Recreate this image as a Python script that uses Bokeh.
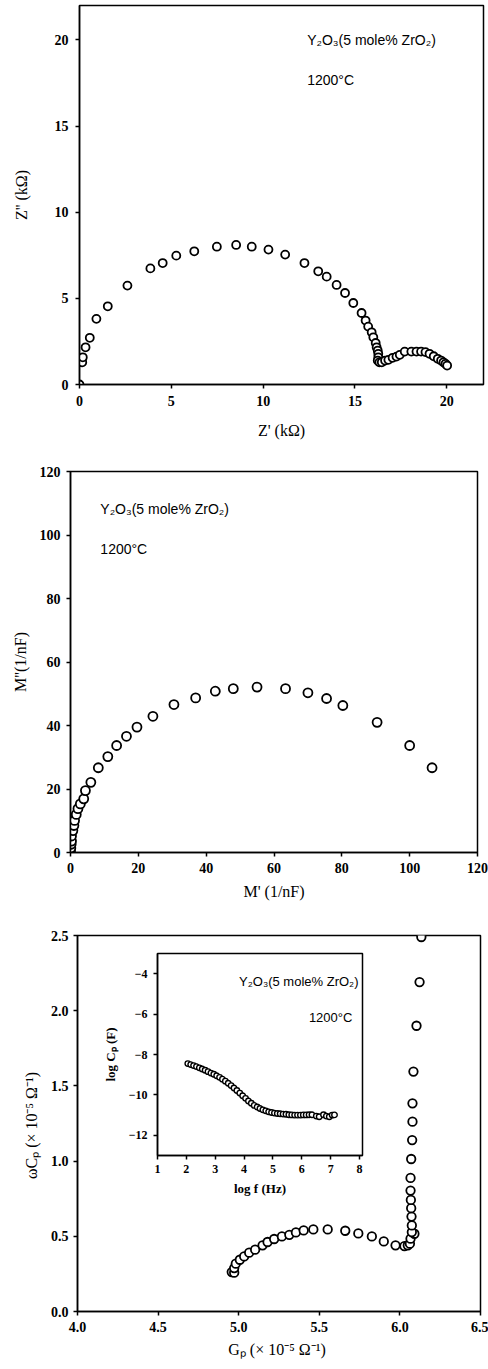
from bokeh.plotting import figure
from bokeh.models import Label, FixedTicker, NumeralTickFormatter, Range1d
from bokeh.embed import file_html
from bokeh.resources import INLINE

# ---------------- data ----------------
# Panel 1: impedance plane
z_re = [0.0, 0.15, 0.18, 0.33, 0.56, 0.92, 1.54, 2.61, 3.86, 4.53, 5.27, 6.25, 7.48,
        8.53, 9.38, 10.29, 11.2, 12.25, 13.0, 13.46, 14.0, 14.46, 14.91, 15.36, 15.58,
        15.72, 15.91, 16.0, 16.13, 16.18, 16.24, 16.27, 16.27, 16.24, 16.33, 16.46,
        16.64, 16.82, 17.05, 17.26, 17.44, 17.71, 18.07, 18.35, 18.6, 18.84, 19.06,
        19.29, 19.51, 19.69, 19.82, 19.93, 20.02]
z_im = [0.0, 1.29, 1.58, 2.16, 2.71, 3.81, 4.54, 5.74, 6.74, 7.05, 7.48, 7.73, 8.0,
        8.1, 8.0, 7.83, 7.54, 7.05, 6.57, 6.26, 5.78, 5.31, 4.73, 4.15, 3.71,
        3.36, 3.03, 2.74, 2.41, 2.16, 1.97, 1.78, 1.58, 1.39, 1.29, 1.29,
        1.39, 1.43, 1.55, 1.62, 1.72, 1.91, 1.91, 1.91, 1.91, 1.88, 1.78,
        1.64, 1.49, 1.39, 1.29, 1.2, 1.1]

# Panel 2: modulus plane
m_re = [0.0, 0.1, 0.2, 0.3, 0.3, 0.7, 1.0, 1.2, 1.7, 2.2, 2.9, 3.9, 4.4, 6.0, 8.2,
        11.0, 13.6, 16.5, 19.6, 24.3, 30.5, 36.9, 42.7, 48.0, 55.0, 63.4, 70.0,
        75.5, 80.3, 90.4, 100.0, 106.6]
m_im = [0.5, 1.4, 2.6, 3.6, 5.2, 6.9, 8.5, 10.1, 12.0, 13.8, 15.3, 16.9, 19.5, 22.1,
        26.7, 30.2, 33.7, 36.6, 39.5, 42.9, 46.6, 48.7, 50.8, 51.6, 52.1, 51.6, 50.3,
        48.5, 46.3, 41.0, 33.7, 26.7]

# Panel 3: admittance plane
g_p = [4.957, 4.972, 4.972, 4.982, 5.007, 5.034, 5.065, 5.102, 5.148, 5.179, 5.220,
       5.268, 5.314, 5.355, 5.403, 5.463, 5.552, 5.661, 5.742, 5.826, 5.900, 5.973,
       6.028, 6.049, 6.062, 6.066, 6.090, 6.074, 6.074, 6.072, 6.070, 6.068, 6.066,
       6.066, 6.070, 6.076, 6.078, 6.078, 6.084, 6.103, 6.122, 6.133]
wc_p = [0.262, 0.258, 0.289, 0.318, 0.344, 0.366, 0.391, 0.411, 0.440, 0.462, 0.482,
        0.499, 0.510, 0.526, 0.539, 0.546, 0.546, 0.537, 0.519, 0.499, 0.466, 0.440,
        0.435, 0.440, 0.451, 0.484, 0.517, 0.528, 0.572, 0.631, 0.687, 0.742, 0.804,
        0.888, 1.014, 1.140, 1.262, 1.384, 1.595, 1.90, 2.19, 2.49]

# Inset: capacitance vs frequency
log_f = [2.05, 2.15, 2.25, 2.35, 2.45, 2.55, 2.65, 2.75, 2.85, 2.95, 3.05, 3.15, 3.25,
         3.35, 3.45, 3.55, 3.65, 3.75, 3.85, 3.95, 4.05, 4.15, 4.25, 4.35, 4.45, 4.55,
         4.65, 4.75, 4.85, 4.95, 5.05, 5.15, 5.25, 5.35, 5.45, 5.55, 5.65, 5.75, 5.85,
         5.95, 6.05, 6.15, 6.25, 6.35, 6.5, 6.6, 6.75, 6.85, 6.95, 7.05, 7.13]
log_cp = [-8.45, -8.5, -8.55, -8.6, -8.66, -8.72, -8.78, -8.85, -8.92, -8.98, -9.05,
          -9.13, -9.22, -9.32, -9.42, -9.54, -9.66, -9.78, -9.91, -10.04, -10.17, -10.3,
          -10.41, -10.52, -10.6, -10.67, -10.74, -10.79, -10.84, -10.87, -10.9, -10.92,
          -10.93, -10.95, -10.96, -10.98, -10.99, -11.0, -11.0, -11.0, -10.99, -10.99,
          -10.98, -10.98, -11.05, -11.08, -10.98, -11.05, -11.08, -11.0, -10.99]

ticks_z = [0, 5, 10, 15, 20]
ticks_m = [0, 20, 40, 60, 80, 100, 120]
ticks_g = [4.0, 4.5, 5.0, 5.5, 6.0, 6.5]
ticks_wc = [0.0, 0.5, 1.0, 1.5, 2.0, 2.5]
ticks_f = [1, 2, 3, 4, 5, 6, 7, 8]
ticks_cp = [-4, -6, -8, -10, -12]

sample = "Y\u2082O\u2083(5 mole% ZrO\u2082)"
temp = "1200\u00b0C"

SERIF = "Liberation Serif"
SANS = "Liberation Sans"


def make_fig(w, h, top, xr, yr, mbl, mbr, mbt, mbb, transparent=False):
    p = figure(width=w, height=h, x_range=Range1d(*xr), y_range=Range1d(*yr),
               output_backend="svg", toolbar_location=None,
               min_border_left=mbl, min_border_right=mbr,
               min_border_top=mbt, min_border_bottom=mbb,
               styles={"position": "absolute", "left": "8px", "top": f"{top}px"})
    p.xgrid.grid_line_color = None
    p.ygrid.grid_line_color = None
    p.outline_line_color = "black"
    p.outline_line_width = 1.5
    p.outline_line_alpha = 1.0
    p.background_fill_color = "white"
    if transparent:
        p.border_fill_alpha = 0.0
    return p


def style_axis(ax, ticks, tick_size, label, label_size, label_bold, standoff, label_standoff, fmt=None):
    ax.ticker = FixedTicker(ticks=ticks)
    if fmt:
        ax.formatter = NumeralTickFormatter(format=fmt)
    ax.axis_line_color = "black"
    ax.axis_line_width = 1.5
    ax.major_tick_line_color = "black"
    ax.major_tick_line_width = 1.5
    ax.major_tick_in = 0
    ax.major_tick_out = 4
    ax.minor_tick_in = 0
    ax.minor_tick_out = 0
    ax.minor_tick_line_color = None
    ax.major_label_text_font = SERIF
    ax.major_label_text_font_style = "bold"
    ax.major_label_text_font_size = tick_size
    ax.major_label_text_color = "black"
    ax.major_label_standoff = standoff
    ax.axis_label = label
    ax.axis_label_text_font = SERIF
    ax.axis_label_text_font_style = "bold" if label_bold else "normal"
    ax.axis_label_text_font_size = label_size
    ax.axis_label_text_color = "black"
    ax.axis_label_standoff = label_standoff


def add_label(p, x, y, text, align="left", size="14px"):
    p.add_layout(Label(x=x, y=y, text=text, text_font=SANS, text_font_size=size,
                       text_align=align, text_baseline="middle", text_color="black"))


# ---------------- panel 1 ----------------
p1 = make_fig(480, 444, 4, (0, 22), (0, 22), 71, 5, 1, 64)
style_axis(p1.xaxis[0], ticks_z, "14px", "Z' (k\u03a9)", "16px", False, 7, 13)
style_axis(p1.yaxis[0], ticks_z, "14px", "Z'' (k\u03a9)", "16px", False, 7, 22)
p1.scatter(z_re, z_im, size=8, marker="circle", fill_color="white",
           line_color="black", line_width=1.8)
add_label(p1, 12.4, 20.0, sample)
add_label(p1, 12.4, 17.7, temp)

# ---------------- panel 2 ----------------
p2 = make_fig(480, 457, 448, (0, 120), (0, 120), 62, 11, 23, 53)
style_axis(p2.xaxis[0], ticks_m, "14px", "M' (1/nF)", "16px", False, 6, 7)
style_axis(p2.yaxis[0], ticks_m, "14px", "M''(1/nF)", "16px", False, 6, 8)
p2.scatter(m_re, m_im, size=9, marker="circle", fill_color="white",
           line_color="black", line_width=1.8)
add_label(p2, 8.8, 108.3, sample)
add_label(p2, 8.8, 95.7, temp)

# ---------------- panel 3 ----------------
p3 = make_fig(480, 456, 905, (4.0, 6.5), (0.0, 2.5), 69, 8, 30, 50)
style_axis(p3.xaxis[0], ticks_g, "14px", "G\u209a (\u00d7 10\u207b\u2075  \u03a9\u207b\u00b9)", "16px", False, 6, 6, "0.0")
style_axis(p3.yaxis[0], ticks_wc, "14px", "\u03c9C\u209a (\u00d7 10\u207b\u2075  \u03a9\u207b\u00b9)", "16px", False, 5, 8, "0.0")
p3.scatter(g_p, wc_p, size=8.5, marker="circle", fill_color="white",
           line_color="black", line_width=1.8)

# ---------------- inset (overlaid on panel 3) ----------------
pin = make_fig(480, 456, 905, (1, 8.1), (-13, -3), 149, 126, 48, 206, transparent=True)
style_axis(pin.xaxis[0], ticks_f, "12px", "log f (Hz)", "13px", True, 5, 5)
style_axis(pin.yaxis[0], ticks_cp, "12px", "log C\u209a (F)", "13px", True, 6, 8)
pin.scatter(log_f, log_cp, size=5.5, marker="circle", fill_color="white",
            line_color="black", line_width=1.4)
add_label(pin, 7.96, -4.4, sample, align="right", size="13px")
add_label(pin, 7.75, -6.15, temp, align="right", size="13px")

open("out.html", "w").write(file_html([p1, p2, p3, pin], INLINE))
